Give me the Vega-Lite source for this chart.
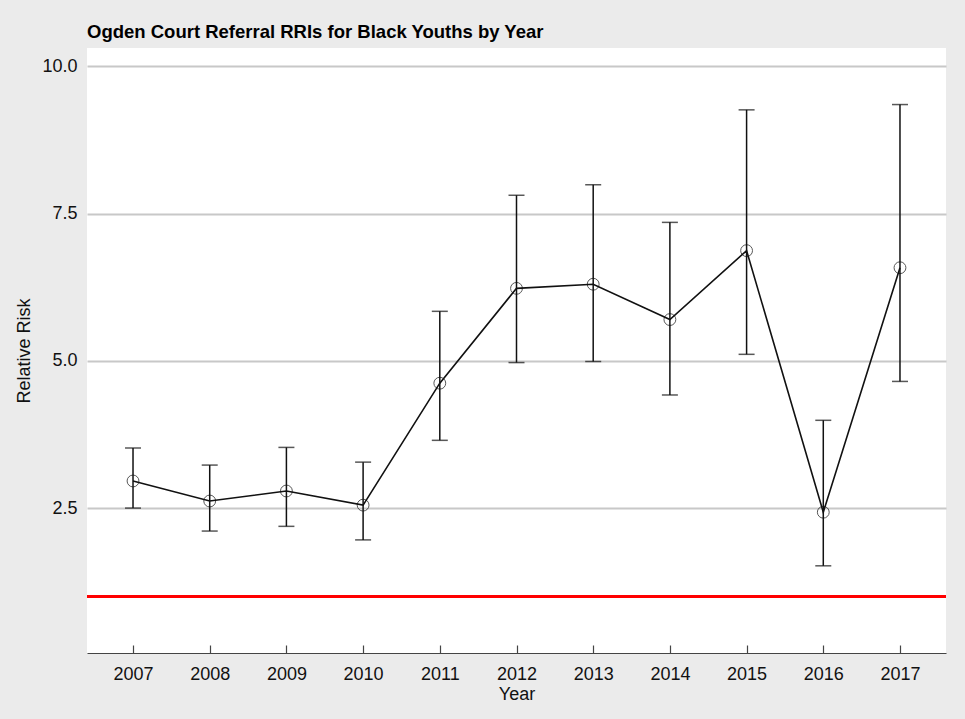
{
  "$schema": "https://vega.github.io/schema/vega-lite/v6.json",
  "autosize": "none",
  "width": 859,
  "height": 605,
  "padding": {"left": 87, "top": 48, "right": 19, "bottom": 66},
  "background": "#ebebeb",
  "title": {
    "text": "Ogden Court Referral RRIs for Black Youths by Year",
    "anchor": "start",
    "frame": "group",
    "offset": 7,
    "font": "Liberation Sans",
    "fontSize": 18.5,
    "fontWeight": "bold",
    "color": "#000000"
  },
  "config": {
    "view": {"fill": "#ffffff", "stroke": null},
    "axis": {"labelFont": "Liberation Sans", "titleFont": "Liberation Sans", "labelColor": "#111111", "titleColor": "#111111", "titleFontWeight": "normal"}
  },
  "data": {
    "values": [
      {"year": "2007", "rri": 2.96, "lower": 2.50, "upper": 3.52},
      {"year": "2008", "rri": 2.62, "lower": 2.11, "upper": 3.23},
      {"year": "2009", "rri": 2.79, "lower": 2.19, "upper": 3.53},
      {"year": "2010", "rri": 2.55, "lower": 1.96, "upper": 3.28},
      {"year": "2011", "rri": 4.62, "lower": 3.65, "upper": 5.84},
      {"year": "2012", "rri": 6.23, "lower": 4.97, "upper": 7.81},
      {"year": "2013", "rri": 6.30, "lower": 4.99, "upper": 7.99},
      {"year": "2014", "rri": 5.70, "lower": 4.42, "upper": 7.35},
      {"year": "2015", "rri": 6.87, "lower": 5.11, "upper": 9.26},
      {"year": "2016", "rri": 2.43, "lower": 1.52, "upper": 3.99},
      {"year": "2017", "rri": 6.58, "lower": 4.65, "upper": 9.35}
    ]
  },
  "encoding": {
    "x": {
      "field": "year",
      "type": "ordinal",
      "title": "Year",
      "scale": {"type": "point", "padding": 0.6},
      "axis": {
        "labelAngle": 0,
        "labelFontSize": 18,
        "titleFontSize": 18,
        "domainColor": "#444444",
        "domainWidth": 1.2,
        "tickColor": "#444444",
        "tickWidth": 1.2,
        "tickSize": -8,
        "labelPadding": 20,
        "titlePadding": 2,
        "grid": false
      }
    }
  },
  "layer": [
    {
      "mark": {"type": "rule", "color": "#ff0000", "strokeWidth": 2.5},
      "encoding": {"x": null, "y": {"datum": 1}}
    },
    {
      "mark": {"type": "rule", "color": "#111111", "strokeWidth": 1.5},
      "encoding": {
        "y": {
          "field": "lower",
          "type": "quantitative",
          "title": "Relative Risk",
          "scale": {"domain": [0.04, 10.31], "nice": false, "zero": false},
          "axis": {
            "values": [2.5, 5, 7.5, 10],
            "format": ".1f",
            "labelFontSize": 18,
            "titleFontSize": 18,
            "domain": false,
            "ticks": false,
            "labelPadding": 10,
            "titlePadding": 8,
            "grid": true,
            "gridColor": "#c8c8c8",
            "gridWidth": 2
          }
        },
        "y2": {"field": "upper"}
      }
    },
    {
      "mark": {"type": "tick", "color": "#111111", "size": 16, "thickness": 1.5},
      "encoding": {"y": {"field": "lower", "type": "quantitative"}}
    },
    {
      "mark": {"type": "tick", "color": "#111111", "size": 16, "thickness": 1.5},
      "encoding": {"y": {"field": "upper", "type": "quantitative"}}
    },
    {
      "mark": {"type": "line", "color": "#111111", "strokeWidth": 1.6},
      "encoding": {"y": {"field": "rri", "type": "quantitative"}}
    },
    {
      "mark": {"type": "point", "shape": "circle", "filled": false, "size": 140, "stroke": "#111111", "strokeWidth": 1},
      "encoding": {"y": {"field": "rri", "type": "quantitative"}}
    }
  ]
}
